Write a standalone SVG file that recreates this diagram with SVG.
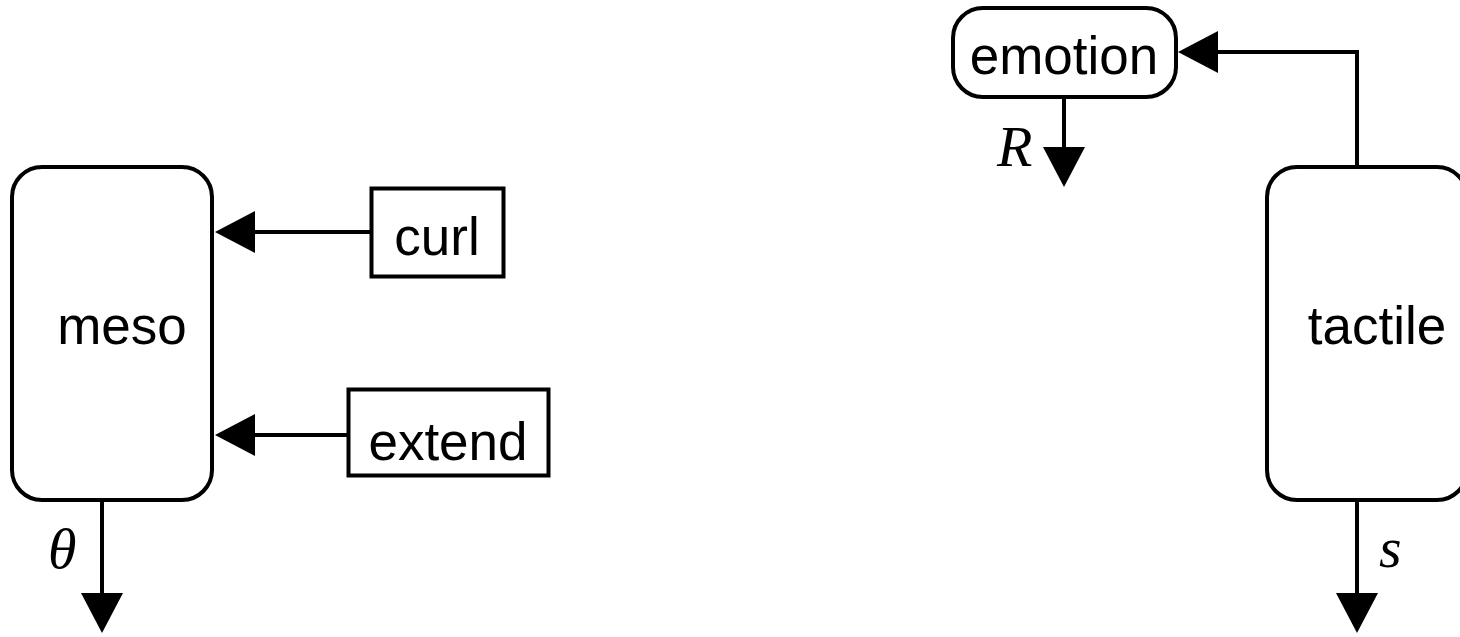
<svg xmlns="http://www.w3.org/2000/svg" width="1460" height="637" viewBox="0 0 1460 637">
  <style>
    .box { fill: #ffffff; stroke: #000000; stroke-width: 4; }
    .wire { fill: none; stroke: #000000; stroke-width: 4; }
    .label { font-family: "Liberation Sans", Arial, sans-serif; font-size: 53px; fill: #000000; text-anchor: middle; }
    .math { font-family: "Liberation Serif", "Times New Roman", serif; font-style: italic; font-size: 58px; fill: #000000; }
  </style>
  <defs>
    <!-- filled triangular head; the wire stops halfway into it so the point stays sharp -->
    <marker id="head" markerUnits="userSpaceOnUse" markerWidth="40" markerHeight="42" refX="20" refY="21" orient="auto">
      <path d="M0,0 L40,21 L0,42 Z" fill="#000000"/>
    </marker>
  </defs>

  <g id="connectors">
    <line class="wire" x1="370" y1="232" x2="235" y2="232" marker-end="url(#head)"/>
    <line class="wire" x1="347" y1="435" x2="235" y2="435" marker-end="url(#head)"/>
    <line class="wire" x1="102" y1="502" x2="102" y2="613" marker-end="url(#head)"/>
    <polyline class="wire" points="1357,165 1357,52 1198,52" marker-end="url(#head)"/>
    <line class="wire" x1="1064" y1="98" x2="1064" y2="167" marker-end="url(#head)"/>
    <line class="wire" x1="1357" y1="502" x2="1357" y2="613" marker-end="url(#head)"/>
    <text class="math" x="48" y="568">θ</text>
    <text class="math" x="997" y="166">R</text>
    <text class="math" x="1379" y="567">s</text>
  </g>

  <g id="meso">
    <rect class="box" x="12" y="167" width="200" height="333" rx="30" ry="30"/>
    <text class="label" x="122" y="344">meso</text>
  </g>

  <g id="curl">
    <rect class="box" x="371.5" y="188.5" width="132" height="88"/>
    <text class="label" x="437" y="255">curl</text>
  </g>

  <g id="extend">
    <rect class="box" x="348.5" y="389.5" width="200" height="86"/>
    <text class="label" x="448" y="460">extend</text>
  </g>

  <g id="emotion">
    <rect class="box" x="953" y="8" width="223" height="89" rx="30" ry="30"/>
    <text class="label" x="1064" y="74">emotion</text>
  </g>

  <g id="tactile">
    <rect class="box" x="1267" y="167" width="200" height="333" rx="30" ry="30"/>
    <text class="label" x="1377" y="344">tactile</text>
  </g>
</svg>
